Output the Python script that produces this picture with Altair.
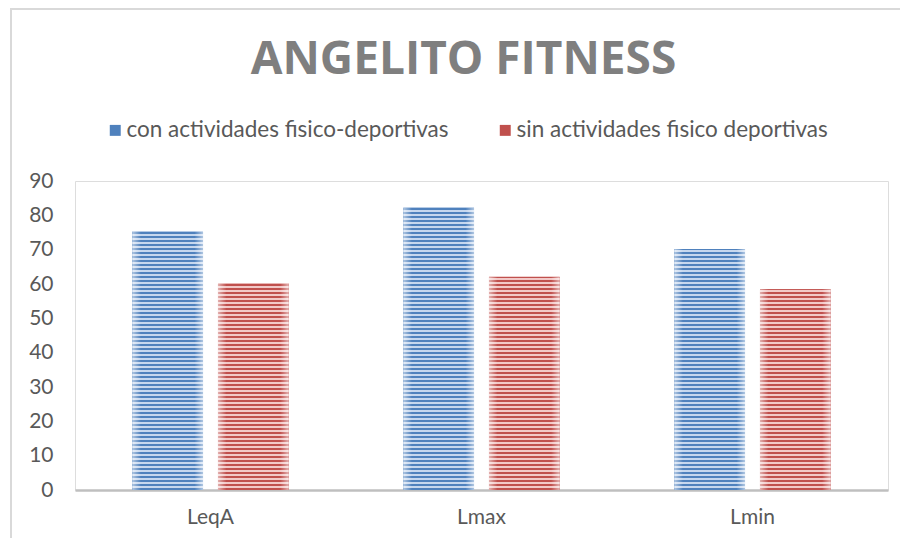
import altair as alt
import pandas as pd

categories = ["LeqA", "Lmax", "Lmin"]
series_names = ["con actividades fisico-deportivas", "sin actividades fisico deportivas"]
con_values = [75.4, 82.3, 70.2]
sin_values = [60.2, 62.1, 58.5]
y_ticks = [0, 10, 20, 30, 40, 50, 60, 70, 80, 90]
series_dark = ["#4f81bd", "#c0504d"]
series_light = ["#c6d7ee", "#f2c9c8"]

rows = []
for s_name, vals in zip(series_names, [con_values, sin_values]):
    for c, v in zip(categories, vals):
        rows.append({"cat": c, "serie": s_name, "value": v})
df = pd.DataFrame(rows)

W, H = 813, 309
YMAX = 90
FONT = "Lato"
GRAY = "#595959"

x_enc = alt.X(
    "cat:N", sort=categories,
    scale=alt.Scale(paddingInner=0.424, paddingOuter=0.212),
    axis=alt.Axis(title=None, labelAngle=0, domainColor="#bfbfbf", domainWidth=2.5,
                  ticks=False, labelFontSize=21, labelColor=GRAY, labelPadding=16,
                  labelFont=FONT),
)
xo_enc = alt.XOffset("serie:N", sort=series_names,
                     scale=alt.Scale(paddingInner=0.175, paddingOuter=0))
y_enc = alt.Y(
    "value:Q", scale=alt.Scale(domain=[0, YMAX], nice=False),
    axis=alt.Axis(title=None, values=y_ticks, grid=False, domain=False, ticks=False,
                  labelFontSize=21, labelColor=GRAY, labelPadding=22, labelFont=FONT),
)

base = alt.Chart(df)

solid = base.mark_bar().encode(
    x=x_enc, xOffset=xo_enc, y=y_enc,
    color=alt.Color(
        "serie:N", sort=series_names,
        scale=alt.Scale(domain=series_names, range=series_dark),
        legend=alt.Legend(title=None, orient="none", legendX=29, legendY=-62,
                          direction="horizontal", columns=2, columnPadding=45,
                          symbolType="square", symbolSize=120, symbolOffset=0,
                          symbolStrokeWidth=0, labelOffset=0,
                          labelFontSize=22.5, labelColor=GRAY, labelFont=FONT,
                          labelLimit=500),
    ),
)

layers = [solid]

PERIOD = 4.0
DARK_PART = 2.0


def stripe_gradient(h, dark, light):
    # gradient runs from the bar's bottom (y1=1) to its top (y2=0): stripes stay pixel-aligned
    stops = []
    k = 0
    while k * PERIOD < h:
        p0 = k * PERIOD
        p1 = min(p0 + DARK_PART, h)
        p2 = min(p0 + PERIOD, h)
        stops += [
            {"offset": p0 / h, "color": dark},
            {"offset": p1 / h, "color": dark},
            {"offset": p1 / h, "color": light},
            {"offset": p2 / h, "color": light},
        ]
        k += 1
    return {"gradient": "linear", "x1": 0, "y1": 1, "x2": 0, "y2": 0, "stops": stops}


for si, (s_name, vals) in enumerate(zip(series_names, [con_values, sin_values])):
    for c, v in zip(categories, vals):
        h = v * H / YMAX
        layers.append(
            base.transform_filter(
                f"datum.cat == '{c}' && datum.serie == '{s_name}'"
            ).mark_bar(color=stripe_gradient(h, series_dark[si], series_light[si])).encode(
                x=x_enc, xOffset=xo_enc, y=y_enc
            )
        )

edge = {
    "gradient": "linear", "x1": 0, "y1": 0, "x2": 1, "y2": 0,
    "stops": [
        {"offset": 0, "color": "rgba(255,255,255,0.55)"},
        {"offset": 0.12, "color": "rgba(255,255,255,0)"},
        {"offset": 0.88, "color": "rgba(255,255,255,0)"},
        {"offset": 1, "color": "rgba(255,255,255,0.55)"},
    ],
}
layers.append(base.mark_bar(color=edge).encode(x=x_enc, xOffset=xo_enc, y=y_enc))

frame = alt.Chart(pd.DataFrame({"a": [0]})).mark_rect(
    filled=False, stroke="#d9d9d9", strokeWidth=2
).encode(x=alt.value(-64), x2=alt.value(1000), y=alt.value(-172), y2=alt.value(700))
layers.append(frame)

chart = alt.layer(*layers).properties(
    width=W, height=H,
    autosize=alt.AutoSizeParams(type="none"),
    padding={"left": 67, "top": 173, "right": 12, "bottom": 48},
    title=alt.Title("ANGELITO FITNESS", fontSize=46, font="Open Sans", fontWeight="bold",
                    color="#7f7f7f", anchor="middle", dx=-18, offset=-112,
                    baseline="alphabetic"),
).configure_view(strokeWidth=0).configure(background="white")

chart.save("out.html", embed_options={"renderer": "svg", "actions": False})
